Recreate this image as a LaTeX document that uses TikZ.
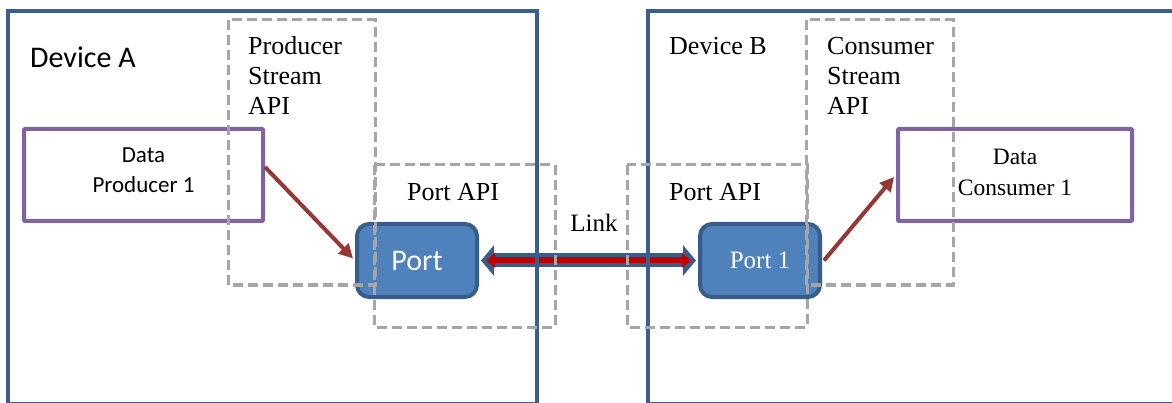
\documentclass[tikz,border=0pt]{standalone}
\usepackage{fontspec}
\setmainfont{Liberation Serif}
\newfontfamily\calibri{Carlito}
\usetikzlibrary{arrows.meta,calc}
\definecolor{devblue}{HTML}{3A5F8E}
\definecolor{portfill}{HTML}{4F81BD}
\definecolor{portdraw}{HTML}{385D8A}
\definecolor{purp}{HTML}{8064A2}
\definecolor{dashgray}{HTML}{A6A6A6}
\definecolor{darkred}{HTML}{953735}
\definecolor{linkred}{HTML}{C00000}
\begin{document}
\begin{tikzpicture}[x=1pt,y=-1pt,
 device/.style={draw=devblue,line width=4pt},
 apibox/.style={draw=dashgray,line width=3pt,dash pattern=on 10pt off 5pt},
 databox/.style={draw=purp,line width=4pt,fill=white,rounded corners=1pt,inner sep=0pt,align=center},
 portbox/.style={draw=portdraw,fill=portfill,line width=4pt,rounded corners=12pt,text=white,inner sep=0pt,minimum width=120pt,minimum height=73pt},
 flow/.style={draw=darkred,line width=4pt,-{Triangle[length=14pt,width=14pt]}},
 lbl/.style={inner sep=0pt,font=\fontsize{26}{30}\selectfont}
]
\useasboundingbox (0,0) rectangle (1172,403);
% boxes
\node[databox,minimum width=239pt,minimum height=92pt,font=\calibri\fontsize{23}{30}\selectfont,text depth=10pt] (prod) at (143.5,175) {Data\\Producer 1};
\node[databox,minimum width=234pt,minimum height=92pt,font=\fontsize{23.5}{31}\selectfont,text depth=6pt] (cons) at (1015,175) {Data\\Consumer 1};
\node[portbox,font=\calibri\fontsize{30}{36}\selectfont] (port) at (417,260.5) {Port};
\node[portbox,font=\fontsize{25}{30}\selectfont] (port1) at (760,260.5) {Port 1};
% link
\draw[draw=portdraw,line width=14pt,{Triangle[length=13pt,width=30pt]}-{Triangle[length=13pt,width=30pt]}] ([xshift=2pt]port.east) -- ([xshift=-2pt]port1.west);
\draw[draw=linkred,line width=6pt,{Triangle[length=9pt,width=14pt]}-{Triangle[length=9pt,width=14pt]}] ([xshift=7pt]port.east) -- ([xshift=-7pt]port1.west);
% flows
\draw[flow] ([yshift=8pt]prod.east) -- ([xshift=-2pt,yshift=2pt]port.west);
\draw[flow] ([xshift=2pt]port1.east) -- ([xshift=-2pt,yshift=-2pt]cons.west);
% devices
\draw[device] (8,11) rectangle (537,404);
\draw[device] (648,11) rectangle (1190,404);
% API regions
\draw[apibox] (228,20) rectangle (375,285);
\draw[apibox] (374,165) rectangle (555,327);
\draw[apibox] (627,165) rectangle (807,327);
\draw[apibox] (806,20) rectangle (953,285);
% labels
\node[lbl,font=\calibri\fontsize{30}{36}\selectfont,anchor=base west] (devA) at (30,68) {Device A};
\node[lbl,anchor=base west] (devB) at (669,55) {Device B};
\node[lbl,anchor=base west,align=left] (psapi) at (248,115) {Producer\\Stream\\API};
\node[lbl,anchor=base west,align=left] (csapi) at (827,115) {Consumer\\Stream\\API};
\node[lbl,anchor=base west] (papiA) at (407,201) {Port API};
\node[lbl,anchor=base west] (papiB) at (669,201) {Port API};
\node[lbl,font=\fontsize{25}{30}\selectfont,anchor=base] (link) at (594,232) {Link};
\end{tikzpicture}
\end{document}
